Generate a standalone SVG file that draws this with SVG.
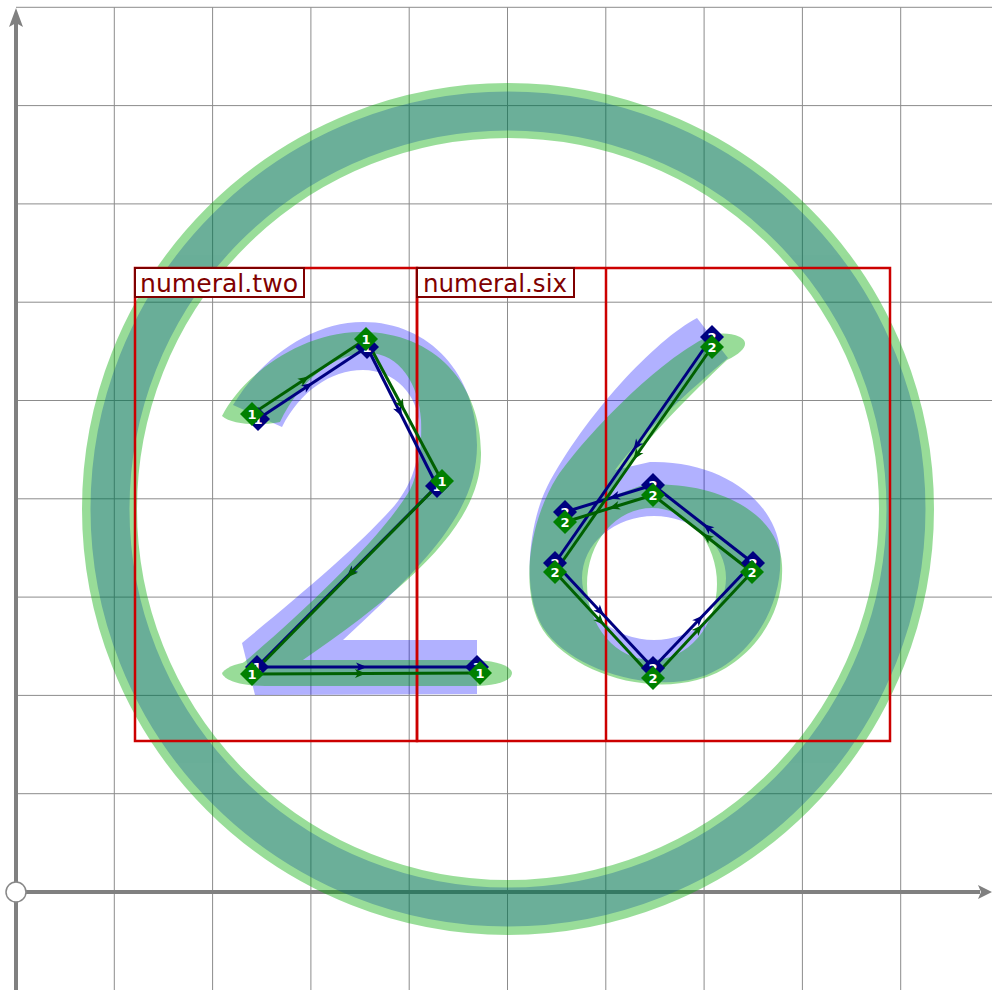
<svg xmlns="http://www.w3.org/2000/svg" width="992" height="990" viewBox="0 0 992 990">
<style>
.grid{stroke:#8c8c8c;stroke-width:1;fill:none}
.axis{stroke:#808080;stroke-width:4;fill:none}
.axhead{fill:#808080}
.box{fill:none;stroke:#cc0000;stroke-width:2.5}
.lbl rect{fill:#fff;stroke:#800000;stroke-width:2}
.lbl text{font-family:"DejaVu Sans",sans-serif;font-size:24px;fill:#800000}
.sb{stroke:#000080;stroke-width:3;fill:none;marker-mid:url(#ab)}
.sg{stroke:#006000;stroke-width:3;fill:none;marker-mid:url(#ag)}
.db{fill:#000080}
.dg{fill:#008000}
.num{font-family:"DejaVu Sans",sans-serif;font-weight:bold;font-size:13px;fill:#fff;text-anchor:middle}
</style>
<defs>
<marker id="ab" viewBox="-12 -6 13 12" markerWidth="13" markerHeight="12" refX="0" refY="0" orient="auto" markerUnits="userSpaceOnUse"><path d="M-11,-4.5 L0,0 L-11,4.5 L-8,0 Z" fill="#000080"/></marker>
<marker id="ag" viewBox="-12 -6 13 12" markerWidth="13" markerHeight="12" refX="0" refY="0" orient="auto" markerUnits="userSpaceOnUse"><path d="M-11,-4.5 L0,0 L-11,4.5 L-8,0 Z" fill="#006000"/></marker>
<path id="dia" d="M0,-12 L12,0 L0,12 L-12,0 Z"/>
</defs>

<g id="grid">
<path class="grid" d="M16,7.3H992 M16,105.6H992 M16,203.9H992 M16,302.2H992 M16,400.5H992 M16,498.8H992 M16,597.1H992 M16,695.4H992 M16,793.7H992
M114.3,7.3V990 M212.6,7.3V990 M310.9,7.3V990 M409.2,7.3V990 M507.5,7.3V990 M605.8,7.3V990 M704.1,7.3V990 M802.4,7.3V990 M900.7,7.3V990"/>
</g>
<g id="axes">
<line class="axis" x1="16" y1="990" x2="16" y2="22"/>
<path class="axhead" d="M16,8 L23,27 L16,23 L9,27 Z"/>
<line class="axis" x1="16" y1="892" x2="980" y2="892"/>
<path class="axhead" d="M992,892 L978,885 L981,892 L978,899 Z"/>
</g>

<g id="outlines-blue" opacity="0.3">
<circle cx="508" cy="509" r="398" fill="none" stroke="#0000ff" stroke-width="39"/>
<path fill="#0000ff" d="M233,405 C260,360 310,322 363,322 C430,322 477,375 477,445 C477,510 430,560 343,640 L477,640 L477,694 L255,695 L242,643 C300,595 360,545 395,505 C415,480 420,455 419,425 C418,395 395,370 363,370 C330,370 300,392 282,427 Z"/>
<path fill="#0000ff" fill-rule="evenodd" d="M697,318 C655,340 585,415 547,487 C528,525 520,600 547,633 C575,670 650,692 697,678 C745,665 785,610 780,550 C775,500 720,460 650,462 L615,470 C645,430 690,390 728,358 Z M582,578 A72,62 0 1 0 726,578 A72,62 0 1 0 582,578 Z"/>
</g>
<g id="outlines-green" opacity="0.4">
<circle cx="508" cy="509" r="398.5" fill="none" stroke="#00aa00" stroke-width="55"/>
<path fill="#00aa00" d="M222,416 C240,380 295,333 360,332 C435,331 482,385 481,455 C480,520 420,580 300,662 L243,663 C300,615 380,540 410,490 C420,470 422,440 421,420 C419,385 400,353 368,353 C335,353 300,380 280,422 C260,426 232,425 222,416 Z"/>
<path fill="#00aa00" d="M222,673 C230,663 250,660 285,660 L470,660 C498,660 512,667 512,673 C512,680 498,686 470,686 L265,686 C240,686 224,680 222,673 Z"/>
<path fill="#00aa00" fill-rule="evenodd" d="M707,337 C660,360 590,430 557,477 C530,520 518,590 543,630 C570,670 640,695 697,680 C745,668 785,620 782,565 C780,515 720,480 643,485 L610,497 L625,470 C650,435 690,395 727,360 C745,352 750,342 740,337 C728,332 715,333 707,337 Z M587,584 A65,76 0 1 0 717,584 A65,76 0 1 0 587,584 Z"/>
</g>

<g id="boxes">
<rect class="box" x="135" y="268" width="282" height="473"/>
<rect class="box" x="417" y="268" width="473" height="473"/>
<line class="box" x1="606" y1="268" x2="606" y2="741"/>
</g>
<g id="label-two" class="lbl"><rect x="135" y="268" width="169" height="29"/><text x="140" y="292" textLength="158" lengthAdjust="spacingAndGlyphs">numeral.two</text></g>
<g id="label-six" class="lbl"><rect x="417" y="268" width="157" height="29"/><text x="423" y="292" textLength="144" lengthAdjust="spacingAndGlyphs">numeral.six</text></g>

<g id="connectors">
<path class="sb" d="M258,419 L312.5,383 L367,347"/>
<path class="sb" d="M367,347 L402,416.5 L437,486"/>
<path class="sb" d="M437,486 L347,576.5 L257,667"/>
<path class="sb" d="M257,667 L367,667 L477,667"/>
<path class="sb" d="M712,337 L633.5,450 L555,563"/>
<path class="sb" d="M555,563 L604,615.5 L653,668"/>
<path class="sb" d="M653,668 L703,615.5 L753,563"/>
<path class="sb" d="M753,563 L703,524 L653,485"/>
<path class="sb" d="M653,485 L609,498.5 L565,512"/>
<path class="sg" d="M252,414 L309,376.5 L366,339"/>
<path class="sg" d="M366,339 L404,410 L442,481"/>
<path class="sg" d="M442,481 L347,577.5 L252,674"/>
<path class="sg" d="M252,674 L366,673.5 L480,673"/>
<path class="sg" d="M712,347 L633.5,459.5 L555,572"/>
<path class="sg" d="M555,572 L604,625 L653,678"/>
<path class="sg" d="M653,678 L702.5,625 L752,572"/>
<path class="sg" d="M752,572 L702.5,533.5 L653,495"/>
<path class="sg" d="M653,495 L609,508.5 L565,522"/>
</g>

<g id="points-blue">
<g id="b1a"><use href="#dia" class="db" x="258" y="419"/><text class="num" x="258" y="424">1</text></g>
<g id="b1b"><use href="#dia" class="db" x="367" y="347"/><text class="num" x="367" y="352">1</text></g>
<g id="b1c"><use href="#dia" class="db" x="437" y="486"/><text class="num" x="437" y="491">1</text></g>
<g id="b1d"><use href="#dia" class="db" x="257" y="667"/><text class="num" x="257" y="672">1</text></g>
<g id="b1e"><use href="#dia" class="db" x="477" y="667"/><text class="num" x="477" y="672">1</text></g>
<g id="b2a"><use href="#dia" class="db" x="712" y="337"/><text class="num" x="712" y="342">2</text></g>
<g id="b2b"><use href="#dia" class="db" x="555" y="563"/><text class="num" x="555" y="568">2</text></g>
<g id="b2c"><use href="#dia" class="db" x="653" y="668"/><text class="num" x="653" y="673">2</text></g>
<g id="b2d"><use href="#dia" class="db" x="753" y="563"/><text class="num" x="753" y="568">2</text></g>
<g id="b2e"><use href="#dia" class="db" x="653" y="485"/><text class="num" x="653" y="490">2</text></g>
<g id="b2f"><use href="#dia" class="db" x="565" y="512"/><text class="num" x="565" y="517">2</text></g>
</g>
<g id="points-green">
<g id="g1a"><use href="#dia" class="dg" x="252" y="414"/><text class="num" x="252" y="419">1</text></g>
<g id="g1b"><use href="#dia" class="dg" x="366" y="339"/><text class="num" x="366" y="344">1</text></g>
<g id="g1c"><use href="#dia" class="dg" x="442" y="481"/><text class="num" x="442" y="486">1</text></g>
<g id="g1d"><use href="#dia" class="dg" x="252" y="674"/><text class="num" x="252" y="679">1</text></g>
<g id="g1e"><use href="#dia" class="dg" x="480" y="673"/><text class="num" x="480" y="678">1</text></g>
<g id="g2a"><use href="#dia" class="dg" x="712" y="347"/><text class="num" x="712" y="352">2</text></g>
<g id="g2b"><use href="#dia" class="dg" x="555" y="572"/><text class="num" x="555" y="577">2</text></g>
<g id="g2c"><use href="#dia" class="dg" x="653" y="678"/><text class="num" x="653" y="683">2</text></g>
<g id="g2d"><use href="#dia" class="dg" x="752" y="572"/><text class="num" x="752" y="577">2</text></g>
<g id="g2e"><use href="#dia" class="dg" x="653" y="495"/><text class="num" x="653" y="500">2</text></g>
<g id="g2f"><use href="#dia" class="dg" x="565" y="522"/><text class="num" x="565" y="527">2</text></g>
</g>

<g id="origin"><circle cx="16" cy="892" r="10" fill="#fff" stroke="#888" stroke-width="1.5"/></g>
</svg>
